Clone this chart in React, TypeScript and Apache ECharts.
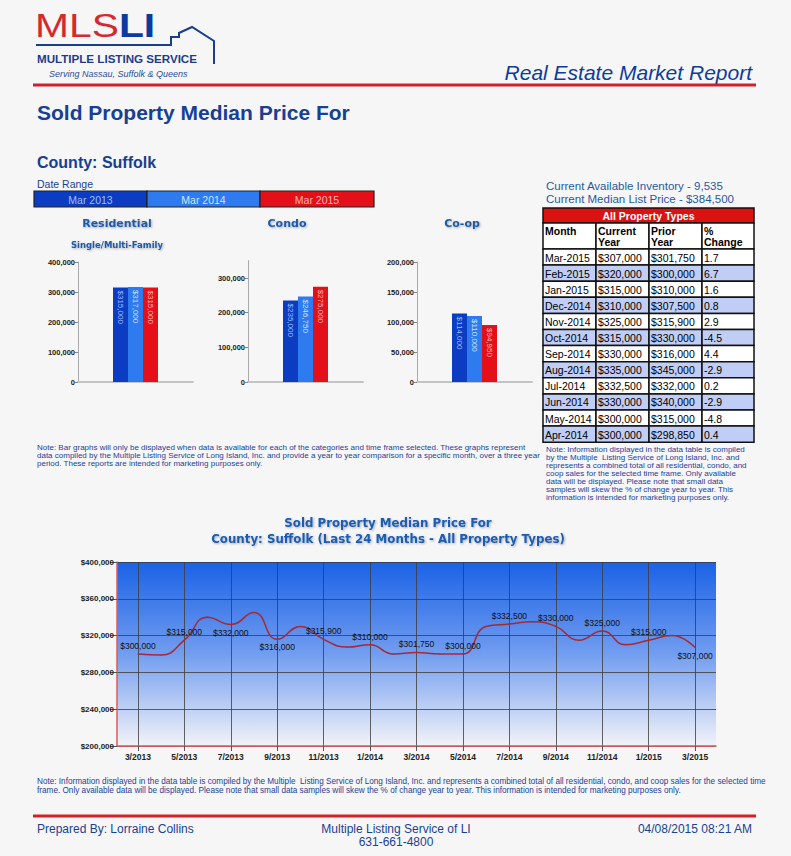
import React, { useEffect, useRef } from "react";
import * as echarts from "echarts";

// ---------- data ----------
const yearLabels = ["Mar 2013", "Mar 2014", "Mar 2015"];
const residentialValues = [315000, 317000, 315000];
const condoValues = [235000, 246750, 275000];
const coopValues = [114000, 110000, 94950];
const barPanelTitles = ["Residential", "Condo", "Co-op"];
const barAxisMax = [400000, 350000, 200000];
const barAxisInterval = [100000, 100000, 50000];

const lineMonths = [
  "3/2013", "4/2013", "5/2013", "6/2013", "7/2013", "8/2013", "9/2013", "10/2013", "11/2013", "12/2013",
  "1/2014", "2/2014", "3/2014", "4/2014", "5/2014", "6/2014", "7/2014", "8/2014", "9/2014", "10/2014",
  "11/2014", "12/2014", "1/2015", "2/2015", "3/2015",
];
const lineValues = [
  300000, 298850, 315000, 340000, 332000, 345000, 316000, 330000, 315900, 307500,
  310000, 300000, 301750, 300000, 300000, 330000, 332500, 335000, 330000, 315000,
  325000, 310000, 315000, 320000, 307000,
];
const lineLabelsBelow = ["7/2013", "9/2013", "3/2015"];

const tableMonths = ["Mar-2015", "Feb-2015", "Jan-2015", "Dec-2014", "Nov-2014", "Oct-2014", "Sep-2014", "Aug-2014", "Jul-2014", "Jun-2014", "May-2014", "Apr-2014"];
const tableCurrent = [307000, 320000, 315000, 310000, 325000, 315000, 330000, 335000, 332500, 330000, 300000, 300000];
const tablePrior = [301750, 300000, 310000, 307500, 315900, 330000, 316000, 345000, 332000, 340000, 315000, 298850];
const tableChange = ["1.7", "6.7", "1.6", "0.8", "2.9", "-4.5", "4.4", "-2.9", "0.2", "-2.9", "-4.8", "0.4"];
const tableHeaders = ["Month", "Current\nYear", "Prior\nYear", "%\nChange"];

const inventoryText = "Current Available Inventory - 9,535\nCurrent Median List Price - $384,500";

const barNote =
  "Note: Bar graphs will only be displayed when data is available for each of the categories and time frame selected. These graphs represent\n" +
  "data compiled by the Multiple Listing Service of Long Island, Inc. and provide a year to year comparison for a specific month, over a three year\n" +
  "period. These reports are intended for marketing purposes only.";
const tableNote =
  "Note: Information displayed in the data table is compiled\n" +
  "by the Multiple  Listing Service of Long Island, Inc. and\n" +
  "represents a combined total of all residential, condo, and\n" +
  "coop sales for the selected time frame. Only available\n" +
  "data will be displayed. Please note that small data\n" +
  "samples will skew the % of change year to year. This\n" +
  "information is intended for marketing purposes only.";
const bottomNote =
  "Note: Information displayed in the data table is compiled by the Multiple  Listing Service of Long Island, Inc. and represents a combined total of all residential, condo, and coop sales for the selected time\n" +
  "frame. Only available data will be displayed. Please note that small data samples will skew the % of change year to year. This information is intended for marketing purposes only.";

// ---------- styles ----------
const ARIAL = "'Liberation Sans', Arial, sans-serif";
const TAHOMA = "'DejaVu Sans', Verdana, sans-serif";
const yearColors = ["#0b3cc2", "#2e7bf0", "#e3101a"];
const yearLabelColors = ["#9fbfff", "#d2e3ff", "#ffb6b6"];
const navy = "#173f95";

const fmt = (n: number) => String(n).replace(/\B(?=(\d{3})+(?!\d))/g, ",");

export default function App() {
  const ref = useRef<HTMLDivElement>(null);

  useEffect(() => {
    if (!ref.current) return;
    const chart = echarts.init(ref.current, undefined, { renderer: "svg" });

    const barPanels = [residentialValues, condoValues, coopValues];
    const barGrids = [
      { left: 78, top: 262, width: 115, height: 120 },
      { left: 248, top: 260.67, width: 115, height: 121.33 },
      { left: 417, top: 262, width: 115, height: 120 },
    ];

    const series: any[] = [];
    barPanels.forEach((vals, g) => {
      yearLabels.forEach((name, k) => {
        series.push({
          type: "bar",
          name,
          xAxisIndex: g,
          yAxisIndex: g,
          data: [vals[k]],
          barWidth: 15,
          barGap: "0%",
          itemStyle: { color: yearColors[k] },
          label: {
            show: true,
            position: "insideTop",
            distance: 3,
            rotate: -90,
            align: "left",
            verticalAlign: "middle",
            color: yearLabelColors[k],
            fontSize: 8,
            fontFamily: ARIAL,
            formatter: (p: any) => "$" + fmt(p.value),
          },
        });
      });
    });

    const tickIdx = lineMonths.map((_, i) => i).filter((i) => i % 2 === 0);

    series.push({
      type: "line",
      xAxisIndex: 3,
      yAxisIndex: 3,
      smooth: 0.5,
      symbol: "circle",
      symbolSize: 1,
      showSymbol: true,
      itemStyle: { color: "#a52a35" },
      lineStyle: { color: "#a52a35", width: 1.5 },
      data: lineValues.map((v, i) => ({
        value: [i, v],
        label: {
          show: i % 2 === 0,
          position: lineLabelsBelow.includes(lineMonths[i]) ? "bottom" : "top",
        },
      })),
      label: {
        distance: 3,
        color: "#111",
        fontSize: 8.5,
        fontFamily: ARIAL,
        formatter: (p: any) => "$" + fmt(p.value[1]),
      },
    });

    // ---------- graphic ----------
    const g: any[] = [];
    const txt = (x: number, y: number, text: string, o: any = {}) =>
      g.push({
        type: "text",
        x,
        y,
        silent: true,
        style: {
          text,
          fill: o.fill || navy,
          fontSize: o.fontSize || 10,
          fontFamily: o.fontFamily || ARIAL,
          fontWeight: o.fontWeight || "normal",
          fontStyle: o.fontStyle || "normal",
          align: o.align || "left",
          textAlign: o.align || "left",
          verticalAlign: o.va || "middle",
          textVerticalAlign: o.va || "middle",
          lineHeight: o.lineHeight,
          textShadowColor: o.shadow ? "rgba(0,0,0,0.3)" : undefined,
          textShadowBlur: o.shadow ? 2 : 0,
          textShadowOffsetX: o.shadow ? 1 : 0,
          textShadowOffsetY: o.shadow ? 1 : 0,
        },
      });

    // logo
    g.push({
      type: "text",
      x: 35,
      y: 25,
      scaleX: 1.2,
      style: {
        text: "{r|MLS}{b|LI}",
        verticalAlign: "middle",
        rich: {
          r: { fontSize: 34, fontFamily: ARIAL, fill: "#d42a2f", color: "#d42a2f" },
          b: { fontSize: 34, fontFamily: ARIAL, fontWeight: "bold", fill: "#0d3aa0", color: "#0d3aa0" },
        },
      },
    });
    g.push({
      type: "polyline",
      shape: { points: [[36, 45], [171, 45], [171, 37], [179, 37], [179, 33], [192, 27], [214, 41], [214, 64]] },
      style: { stroke: "#1a3f8a", lineWidth: 2, fill: "none" },
    });
    txt(37, 58, "MULTIPLE LISTING SERVICE", { fontSize: 11.6, fontWeight: "bold", fill: "#1c3d8c" });
    txt(49, 74, "Serving Nassau, Suffolk & Queens", { fontSize: 9, fontStyle: "italic", fill: "#2a4fa0" });
    g.push({ type: "line", shape: { x1: 33, y1: 85, x2: 756, y2: 85 }, style: { stroke: "#d0202a", lineWidth: 3 } });
    txt(752, 72, "Real Estate Market Report", { fontSize: 21, fontStyle: "italic", align: "right", fill: "#0b3d9c" });

    txt(37, 112, "Sold Property Median Price For", { fontSize: 21, fontWeight: "bold", fill: navy });
    txt(37, 162, "County: Suffolk", { fontSize: 16, fontWeight: "bold", fill: "#173f8f" });
    txt(37, 184, "Date Range", { fontSize: 10.5, fill: "#1a3f95" });

    // date range boxes
    const boxX = [34, 147, 260, 374];
    yearLabels.forEach((lab, k) => {
      g.push({
        type: "rect",
        shape: { x: boxX[k], y: 191, width: boxX[k + 1] - boxX[k], height: 16 },
        style: { fill: yearColors[k], stroke: "#222", lineWidth: 1.2 },
      });
      txt((boxX[k] + boxX[k + 1]) / 2, 199.5, lab, { fontSize: 10.5, align: "center", fill: yearLabelColors[k] });
    });

    // bar panel titles
    const titleX = [117, 287, 462];
    barPanelTitles.forEach((t, k) => {
      txt(titleX[k], 223, t, { fontSize: 11, fontWeight: "bold", fontFamily: TAHOMA, align: "center", fill: "#1f5aad", shadow: true });
    });
    txt(117, 245, "Single/Multi-Family", { fontSize: 8.5, fontWeight: "bold", fontFamily: TAHOMA, align: "center", fill: "#1f5aad", shadow: true });

    txt(37, 455, barNote, { fontSize: 8, lineHeight: 8, fill: "#1d3f9a" });

    // inventory + table
    txt(546, 192.5, inventoryText, { fontSize: 11.5, lineHeight: 12.5, fill: "#1f5aa8" });

    const colX = [543, 596, 649, 702, 754];
    const tTop = 208;
    const titleH = 15;
    const headH = 26;
    const rowH = 16.1;
    g.push({
      type: "rect",
      shape: { x: colX[0], y: tTop, width: colX[4] - colX[0], height: titleH },
      style: { fill: "#dc1212", stroke: "#111", lineWidth: 1.5 },
    });
    txt((colX[0] + colX[4]) / 2, tTop + titleH / 2, "All Property Types", { fontSize: 10.5, fontWeight: "bold", align: "center", fill: "#ffffff" });
    tableHeaders.forEach((h, c) => {
      g.push({
        type: "rect",
        shape: { x: colX[c], y: tTop + titleH, width: colX[c + 1] - colX[c], height: headH },
        style: { fill: "#ffffff", stroke: "#111", lineWidth: 1.5 },
      });
      txt(colX[c] + 2, tTop + titleH + 2, h, { fontSize: 10.5, fontWeight: "bold", fill: "#000", va: "top", lineHeight: 11 });
    });
    tableMonths.forEach((m, r) => {
      const y = tTop + titleH + headH + r * rowH;
      const cells = [m, "$" + fmt(tableCurrent[r]), "$" + fmt(tablePrior[r]), tableChange[r]];
      cells.forEach((cval, c) => {
        g.push({
          type: "rect",
          shape: { x: colX[c], y, width: colX[c + 1] - colX[c], height: rowH },
          style: { fill: r % 2 === 1 ? "#c0cdf4" : "#ffffff", stroke: "#111", lineWidth: 1.5 },
        });
        txt(colX[c] + 2, y + rowH / 2 + 0.5, cval, { fontSize: 10.5, fill: "#000" });
      });
    });
    txt(546, 473.5, tableNote, { fontSize: 8, lineHeight: 8.1, fill: "#1d3f9a" });

    // line chart title
    txt(388, 523, "Sold Property Median Price For", { fontSize: 11.8, fontWeight: "bold", fontFamily: TAHOMA, align: "center", fill: "#1a5cb5", shadow: true });
    txt(388, 539, "County: Suffolk (Last 24 Months - All Property Types)", { fontSize: 11.8, fontWeight: "bold", fontFamily: TAHOMA, align: "center", fill: "#1a5cb5", shadow: true });

    txt(37, 786, bottomNote, { fontSize: 8.2, lineHeight: 8.6, fill: "#1d3f9a" });

    // footer
    g.push({ type: "line", shape: { x1: 33, y1: 816, x2: 756, y2: 816 }, style: { stroke: "#d0202a", lineWidth: 3 } });
    txt(37, 829, "Prepared By: Lorraine Collins", { fontSize: 12, fill: "#1a3f95" });
    txt(396, 829, "Multiple Listing Service of LI", { fontSize: 12, align: "center", fill: "#1a3f95" });
    txt(396, 842, "631-661-4800", { fontSize: 12, align: "center", fill: "#1a3f95" });
    txt(752, 829, "04/08/2015 08:21 AM", { fontSize: 12, align: "right", fill: "#1a3f95" });

    const gradient = new echarts.graphic.LinearGradient(0, 0, 0, 1, [
      { offset: 0, color: "#1b62e5" },
      { offset: 0.5, color: "#729df0" },
      { offset: 1, color: "#f3f3f8" },
    ]);

    const option: any = {
      animation: false,
      backgroundColor: "#f6f6f6",
      grid: [
        ...barGrids,
        { left: 117, top: 562, width: 599, height: 184, show: true, backgroundColor: gradient, borderWidth: 0 },
      ],
      xAxis: [
        ...barGrids.map((_, i) => ({
          type: "category",
          gridIndex: i,
          data: ["Mar"],
          axisLabel: { show: false },
          axisTick: { show: false },
          axisLine: { lineStyle: { color: "#c4c4c4", width: 2 } },
        })),
        {
          type: "value",
          gridIndex: 3,
          min: -0.9,
          max: 24.9,
          axisLine: { onZero: false, lineStyle: { color: "#e05a5a", width: 1.5 } },
          axisTick: { show: true, customValues: tickIdx, length: 5, lineStyle: { color: "#555" } },
          axisLabel: {
            customValues: tickIdx,
            formatter: (v: number) => lineMonths[Math.round(v)] || "",
            fontSize: 8.5,
            fontWeight: "bold",
            color: "#222",
            fontFamily: ARIAL,
            margin: 6,
          },
          splitLine: { show: true, lineStyle: { color: "#3c3c3c", width: 0.8 } },
        },
      ],
      yAxis: [
        ...barGrids.map((_, i) => ({
          type: "value",
          gridIndex: i,
          min: 0,
          max: barAxisMax[i],
          interval: barAxisInterval[i],
          axisLine: { show: true, lineStyle: { color: "#aaa", width: 1 } },
          axisTick: { show: true, length: 3, lineStyle: { color: "#888" } },
          axisLabel: {
            fontSize: 7.5,
            fontWeight: "bold",
            color: "#222",
            fontFamily: ARIAL,
            margin: 3,
            showMaxLabel: barAxisMax[i] % barAxisInterval[i] === 0,
            formatter: (v: number) => fmt(v),
          },
          splitLine: { show: false },
        })),
        {
          type: "value",
          gridIndex: 3,
          min: 200000,
          max: 400000,
          interval: 40000,
          axisLine: { show: true, onZero: false, lineStyle: { color: "#e05a5a", width: 1.5 } },
          axisTick: { show: true, length: 7, lineStyle: { color: "#555" } },
          axisLabel: { fontSize: 8, fontWeight: "bold", color: "#222", fontFamily: ARIAL, margin: 3, formatter: (v: number) => "$" + fmt(v) },
          splitLine: { show: true, lineStyle: { color: "#3c3c3c", width: 0.8 } },
        },
      ],
      series,
      graphic: { elements: g },
    };

    chart.setOption(option);
    return () => chart.dispose();
  }, []);

  return <div ref={ref} style={{ position: "absolute", left: 0, top: 0, width: 791, height: 856 }} />;
}
